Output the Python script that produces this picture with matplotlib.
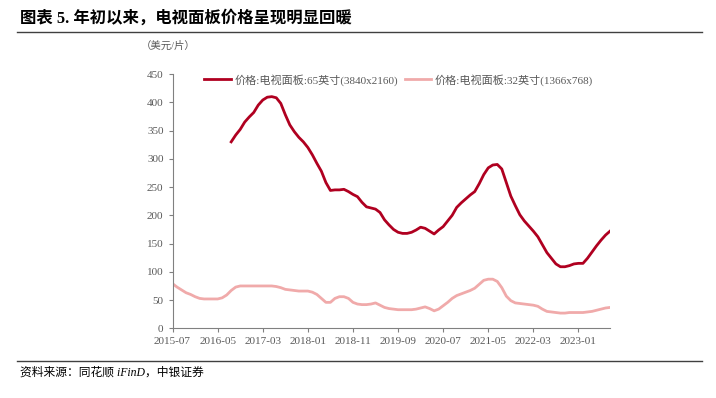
import matplotlib.pyplot as plt
import numpy as np

plt.rcParams['font.family'] = ['Liberation Serif', 'Noto Sans CJK SC']

# monthly data, month 0 = 2015-07
tick_labels = ['2015-07', '2016-05', '2017-03', '2018-01', '2018-11',
               '2019-09', '2020-07', '2021-05', '2022-03', '2023-01']

p32 = [79, 73, 68, 63, 60, 56, 53, 52, 52, 52,
       52, 54, 59, 67, 73, 75, 75, 75, 75, 75,
       75, 75, 75, 74, 72, 69, 68, 67, 66, 66,
       66, 64, 60, 53, 46, 46, 53, 56, 56, 53,
       46, 43, 42, 42, 43, 45, 41, 37, 35, 34,
       33, 33, 33, 33, 34, 36, 38, 35, 31, 34,
       40, 46, 53, 58, 61, 64, 67, 71, 78, 85,
       87, 87, 83, 72, 57, 49, 45, 44, 43, 42,
       41, 39, 34, 30, 29, 28, 27, 27, 28, 28,
       28, 28, 29, 30, 32, 34, 36, 37]

start65 = 13
p65 = [330, 342, 352, 365, 374, 382, 395, 404, 409, 410,
       408, 398, 378, 360, 348, 338, 330, 320, 307, 292,
       278, 258, 244, 245, 245, 246, 242, 237, 233, 223,
       215, 213, 211, 205, 192, 183, 175, 170, 168, 168,
       170, 174, 179, 177, 172, 167, 174, 180, 190, 200,
       214, 222, 229, 236, 242, 256, 272, 284, 289, 290,
       282, 258, 234, 217, 201, 190, 181, 172, 162, 148,
       134, 124, 114, 109, 109, 111, 114, 115, 115, 124,
       135, 146, 156, 165, 172]

label65 = '价格:电视面板:65英寸(3840x2160)'
label32 = '价格:电视面板:32英寸(1366x768)'

fig = plt.figure(figsize=(7.16, 3.98), dpi=100)
ax = fig.add_axes([0.241, 0.175, 0.611, 0.639])

m32 = np.arange(len(p32))
m65 = np.arange(start65, start65 + len(p65))
ax.plot(m65, p65, color='#B00020', lw=2.0, label=label65)
ax.plot(m32, p32, color='#F0AAAA', lw=2.0, label=label32)

ax.set_xlim(0, 97)
ax.set_ylim(0, 450)
ax.set_yticks(np.arange(0, 451, 50))
ax.set_xticks(np.arange(0, 100, 10))
ax.set_xticklabels(tick_labels)

for s in ['top', 'right']:
    ax.spines[s].set_visible(False)
for s in ['left', 'bottom']:
    ax.spines[s].set_color('#808080')
ax.tick_params(colors='#808080', labelcolor='#595959', labelsize=8, length=3)

ax.legend(loc='upper left', bbox_to_anchor=(0.05, 1.04), ncol=2, frameon=False,
          fontsize=8, handlelength=2.4, handletextpad=0.3, columnspacing=0.6,
          labelcolor='#595959')

fig.text(0.028, 0.955, '图表 5. 年初以来，电视面板价格呈现明显回暖',
         fontsize=11.8, fontweight='bold', va='center')
fig.add_artist(plt.Line2D([0.024, 0.98], [0.919, 0.919], color='#404040', lw=1.0))
fig.text(0.197, 0.884, '（美元/片）', fontsize=7.5, color='#595959', va='center')
fig.add_artist(plt.Line2D([0.024, 0.98], [0.093, 0.093], color='#404040', lw=1.0))
fig.text(0.028, 0.065, '资料来源：同花顺 iFinD，中银证券', fontsize=8.5,
         style='italic', va='center')

fig.savefig('out.png')
